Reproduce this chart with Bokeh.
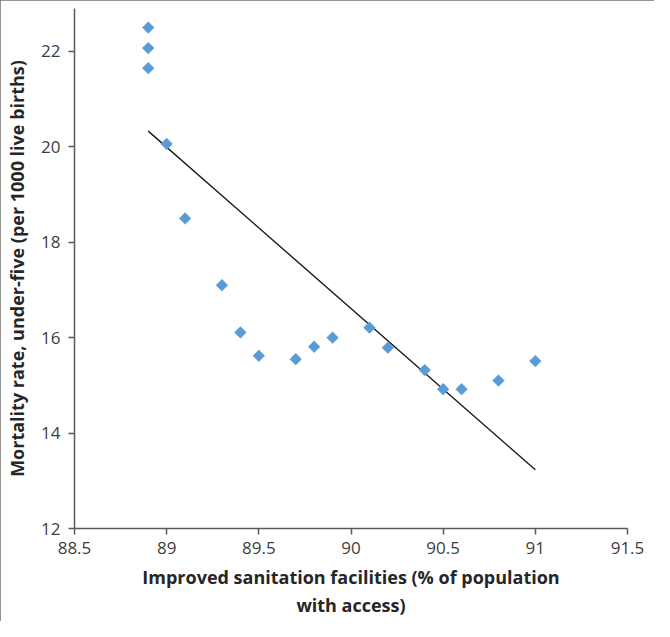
from bokeh.plotting import figure
from bokeh.models import Range1d, FixedTicker
from bokeh.embed import file_html
from bokeh.resources import INLINE
import math

# Data
sanitation = [88.9, 88.9, 88.9, 89.0, 89.1, 89.3, 89.4, 89.5, 89.7, 89.8,
              89.9, 90.1, 90.2, 90.4, 90.5, 90.6, 90.8, 91.0]
mortality = [22.5, 22.07, 21.65, 20.06, 18.5, 17.1, 16.11, 15.62, 15.55, 15.81,
             16.0, 16.21, 15.79, 15.32, 14.92, 14.92, 15.1, 15.51]

trend_x = [88.9, 91.0]
trend_y = [20.33, 13.23]

x_ticks = [88.5, 89, 89.5, 90, 90.5, 91, 91.5]
x_tick_labels = ["88.5", "89", "89.5", "90", "90.5", "91", "91.5"]
y_ticks = [12, 14, 16, 18, 20, 22]
y_tick_labels = ["12", "14", "16", "18", "20", "22"]

x_title = "Improved sanitation facilities (% of population\nwith access)"
y_title = "Mortality rate, under-five (per 1000 live births)"

FONT = "Open Sans"
AXIS_COLOR = "#595959"
TEXT_COLOR = "#404040"
TITLE_COLOR = "#262626"

p = figure(width=654, height=621, output_backend="svg", toolbar_location=None,
           x_range=Range1d(88.5, 91.5), y_range=Range1d(12, 22.9),
           min_border_left=74, min_border_right=27, min_border_top=8,
           min_border_bottom=93)
p.styles = {"outline": "2px solid #707070", "outline-offset": "-2px"}
p.outline_line_color = None
p.xgrid.visible = False
p.ygrid.visible = False
p.background_fill_color = "white"
p.border_fill_color = "white"

p.line(trend_x, trend_y, line_color="#1a1a1a", line_width=1.4)
p.scatter(sanitation, mortality, marker="square", angle=math.pi / 4, size=8.3,
          fill_color="#5B9BD5", line_color="#5B9BD5", line_width=0.5)

for ax, ticks, labels in ((p.xaxis[0], x_ticks, x_tick_labels),
                          (p.yaxis[0], y_ticks, y_tick_labels)):
    ax.ticker = FixedTicker(ticks=ticks)
    ax.major_label_overrides = {t: l for t, l in zip(ticks, labels)}
    ax.minor_tick_line_color = None
    ax.major_tick_in = 0
    ax.major_tick_out = 6
    ax.axis_line_color = AXIS_COLOR
    ax.axis_line_width = 1.5
    ax.major_tick_line_color = AXIS_COLOR
    ax.major_tick_line_width = 1.5
    ax.major_label_text_font = FONT
    ax.major_label_text_font_size = "17px"
    ax.major_label_text_color = TEXT_COLOR
    ax.axis_label_text_font = FONT
    ax.axis_label_text_font_size = "18px"
    ax.axis_label_text_font_style = "bold"
    ax.axis_label_text_color = TITLE_COLOR

p.xaxis[0].axis_label = x_title
p.yaxis[0].axis_label = y_title
p.xaxis[0].major_label_standoff = 7
p.yaxis[0].major_label_standoff = 8
p.xaxis[0].axis_label_standoff = 8
p.yaxis[0].axis_label_standoff = 9

open("out.html", "w").write(file_html(p, INLINE))
